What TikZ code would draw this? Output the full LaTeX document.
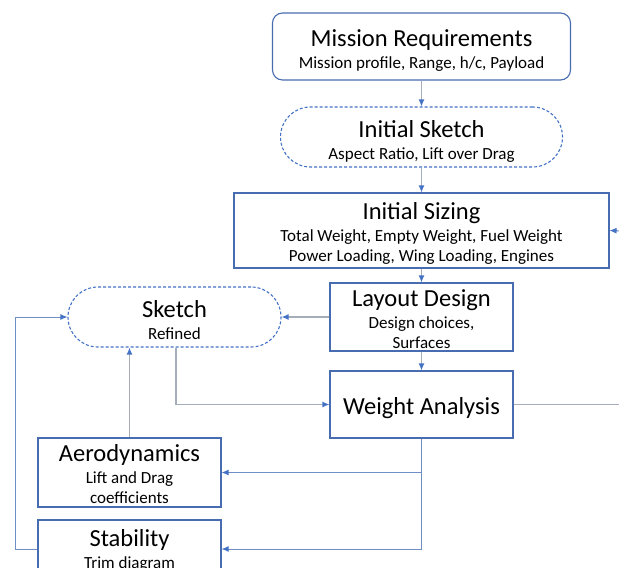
\documentclass[tikz,border=0pt]{standalone}
\usepackage{fontspec}
\setmainfont{Carlito}
\usetikzlibrary{arrows.meta}
\definecolor{boxblue}{RGB}{72,108,176}
\definecolor{linkgray}{RGB}{165,172,186}
\definecolor{tipblue}{RGB}{68,114,196}
\definecolor{linkblue}{RGB}{112,142,198}
\newcommand{\ttl}[1]{{\fontsize{24.5}{26}\selectfont #1}}
\newcommand{\subt}[1]{{\fontsize{17}{20}\selectfont #1}}
\tikzset{
  stepbox/.style={draw=boxblue, line width=1.1pt, inner sep=0pt},
  roundbox/.style={stepbox, rounded corners=10pt},
  pill/.style={stepbox, draw=tipblue, dash pattern=on 3pt off 2pt, rounded corners=29.9pt},
  boxtext/.style={align=center, inner sep=0pt, font=\fontsize{17}{20}\selectfont},
  link/.style={draw=linkgray, line width=1.3pt, -{Latex[length=7pt,width=6pt,color=tipblue]}},
  plainlink/.style={draw=linkgray, line width=1.3pt},
  bluelink/.style={draw=linkblue, line width=1pt, -{Latex[length=7pt,width=6pt,color=tipblue]}},
}
\begin{document}
\begin{tikzpicture}[x=1pt,y=-1pt]
\useasboundingbox (0,0) rectangle (619,568);
\clip (0,0) rectangle (619,568);

% process boxes
\node[roundbox, minimum width=298pt, minimum height=67pt] (mr) at (421.5,46.5) {};
\node[pill, minimum width=282pt, minimum height=60pt] (is) at (421.5,137) {};
\node[stepbox, minimum width=375pt, minimum height=75pt] (sz) at (421.5,230.5) {};
\node[stepbox, minimum width=183pt, minimum height=68pt] (ld) at (421.5,317) {};
\node[pill, minimum width=213pt, minimum height=60pt] (sk) at (174.5,317) {};
\node[stepbox, minimum width=183pt, minimum height=67pt] (wa) at (421.5,404.5) {};
\node[stepbox, minimum width=183pt, minimum height=69pt] (ae) at (129.5,472.5) {};
\node[stepbox, minimum width=183pt, minimum height=58pt] (st) at (129.5,549) {};

% box texts
\node[boxtext] (mrtext) at ([yshift=-4pt]mr.center)
  {\ttl{Mission Requirements}\\[2pt]\subt{Mission profile, Range, h/c, Payload}};
\node[boxtext] (istext) at ([yshift=-4pt]is.center)
  {\ttl{Initial Sketch}\\[2pt]\subt{Aspect Ratio, Lift over Drag}};
\node[boxtext] (sztext) at ([yshift=-2.5pt]sz.center)
  {\ttl{Initial Sizing}\\[2pt]\subt{Total Weight, Empty Weight, Fuel Weight}\\\subt{Power Loading, Wing Loading, Engines}};
\node[boxtext] (ldtext) at ([yshift=-2.5pt]ld.center)
  {\ttl{Layout Design}\\[2pt]\subt{Design choices,}\\\subt{Surfaces}};
\node[boxtext] (sktext) at ([yshift=-3.5pt]sk.center)
  {\ttl{Sketch}\\[2pt]\subt{Refined}};
\node[boxtext] (watext) at ([yshift=-4pt]wa.center)
  {\ttl{Weight Analysis}};
\node[boxtext] (aetext) at ([yshift=-1.5pt]ae.center)
  {\ttl{Aerodynamics}\\[2pt]\subt{Lift and Drag}\\\subt{coefficients}};
\node[boxtext] (sttext) at ([yshift=-1.5pt]st.center)
  {\ttl{Stability}\\[2pt]\subt{Trim diagram}};

% free ends at the right margin
\coordinate (rin) at (625,231);
\coordinate (rout) at (625,404.5);

% main sequence
\draw[link] (mr) -- (is);
\draw[link] (is) -- (sz);
\draw[link] (sz) -- (ld);
\draw[link] (ld) -- (wa);
\draw[link] (ld) -- (sk);
\draw[link] (sk.south) ++(1.5,0) |- (wa.west);
\draw[link] (ae.north) -- (ae.north |- sk.south);
\draw[plainlink] (wa.east) -- (rout);
\draw[bluelink] (rin) -- (sz.east);

% analysis feedback
\draw[bluelink] (wa.south) |- (ae.east);
\draw[bluelink] (wa.south) |- (st.east);
\draw[bluelink] (st.west) -- ++(-22,0) |- (sk.west);
\end{tikzpicture}
\end{document}
